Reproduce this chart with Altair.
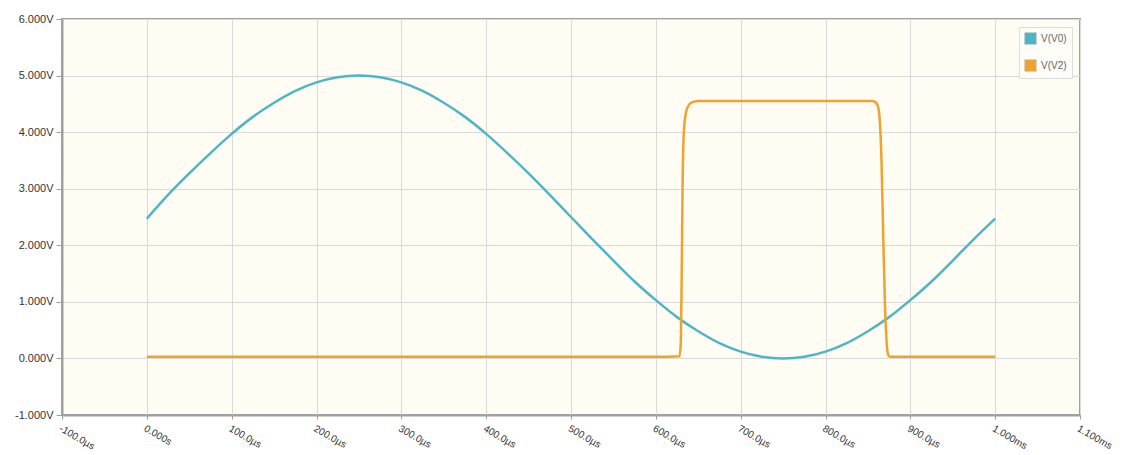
import altair as alt
import pandas as pd

t_v0 = [0, 25, 50, 75, 100, 125, 150, 175, 200, 225, 250, 275, 300, 325, 350, 375, 400,
        425, 450, 475, 500, 525, 550, 575, 600, 625, 650, 675, 700, 725, 750, 775, 800,
        825, 850, 875, 900, 925, 950, 975, 1000]
v_v0 = [2.47, 2.89, 3.27, 3.63, 3.97, 4.27, 4.52, 4.73, 4.88, 4.97, 5.0, 4.97, 4.88, 4.73,
        4.52, 4.27, 3.97, 3.63, 3.27, 2.89, 2.5, 2.11, 1.73, 1.36, 1.03, 0.73, 0.48, 0.27,
        0.12, 0.03, 0.0, 0.03, 0.12, 0.27, 0.48, 0.73, 1.03, 1.36, 1.73, 2.11, 2.47]

# V(V2) pulse
t_v2 = [0, 600, 628, 629.5, 630.5, 631.5, 633, 636, 640, 645, 650, 700, 800, 855, 859, 862,
        864, 866, 868, 870, 872, 874, 876, 880, 1000]
v_v2 = [0.03, 0.03, 0.04, 0.3, 1.5, 3.0, 4.0, 4.38, 4.5, 4.54, 4.55, 4.55, 4.55, 4.55, 4.53,
        4.45, 4.2, 3.5, 2.2, 1.0, 0.3, 0.06, 0.03, 0.03, 0.03]

series_names = ["V(V0)", "V(V2)"]
series_colors = ["#4DB6C6", "#EDA332"]

x_ticks = [-100, 0, 100, 200, 300, 400, 500, 600, 700, 800, 900, 1000, 1100]
x_tick_labels = ["-100.0µs", "0.000s", "100.0µs", "200.0µs", "300.0µs", "400.0µs", "500.0µs",
                 "600.0µs", "700.0µs", "800.0µs", "900.0µs", "1.000ms", "1.100ms"]
y_ticks = [-1, 0, 1, 2, 3, 4, 5, 6]
y_tick_labels = ["-1.000V", "0.000V", "1.000V", "2.000V", "3.000V", "4.000V", "5.000V", "6.000V"]

df = pd.concat([
    pd.DataFrame({"t": t_v0, "v": v_v0, "s": series_names[0]}),
    pd.DataFrame({"t": t_v2, "v": v_v2, "s": series_names[1]}),
])

def label_expr(ticks, labels):
    parts = [f"datum.value == {t} ? '{l}'" for t, l in zip(ticks, labels)]
    return " : ".join(parts) + " : ''"

x_enc = alt.X("t:Q", scale=alt.Scale(domain=[-100, 1100], nice=False, zero=False),
              axis=alt.Axis(values=x_ticks, labelExpr=label_expr(x_ticks, x_tick_labels),
                            labelAngle=30, labelAlign="left", labelBaseline="top",
                            labelPadding=4, tickSize=4, labelFontSize=10, title=None))
y_enc = alt.Y("v:Q", scale=alt.Scale(domain=[-1, 6], nice=False, zero=False),
              axis=alt.Axis(values=y_ticks, labelExpr=label_expr(y_ticks, y_tick_labels),
                            tickSize=6, labelPadding=3, title=None))

base = alt.Chart(df)

lines = base.mark_line(strokeWidth=2.5, interpolate="monotone").encode(
    x=x_enc, y=y_enc,
    color=alt.Color("s:N", scale=alt.Scale(domain=series_names, range=series_colors),
                    legend=None),
)

legend_layer = base.transform_calculate(series="datum.s").mark_square(
    size=0, opacity=1, filled=True).encode(
    x=x_enc, y=y_enc,
    fill=alt.Fill("series:N", scale=alt.Scale(domain=series_names, range=series_colors),
                  legend=alt.Legend(title=None, orient="none", legendX=957, legendY=8,
                                    symbolType="square", symbolSize=140,
                                    symbolStrokeWidth=0.6, symbolStrokeColor="#cccccc",
                                    symbolOpacity=1,
                                    labelFontSize=10, labelColor="#666666",
                                    labelFont="Liberation Sans",
                                    rowPadding=12, padding=5,
                                    strokeColor="#dddddd", fillColor="#fffdf8")),
)

chart = alt.layer(lines, legend_layer).resolve_scale(fill="independent").properties(
    width=1018, height=396,
    padding={"left": 54, "top": 11, "right": 37, "bottom": 40},
    autosize=alt.AutoSizeParams(type="none"),
).configure_view(
    fill="#FFFCF4", stroke="#A0A0A0", strokeWidth=2
).configure_axis(
    labelFont="Liberation Sans", labelFontSize=11, labelColor="#333333",
    gridColor="#D9D9D9", gridWidth=1, domainColor="#A0A0A0", domainWidth=2,
    tickColor="#A0A0A0", tickWidth=1
)

chart.save("out.html", embed_options={"renderer": "svg", "actions": False})
